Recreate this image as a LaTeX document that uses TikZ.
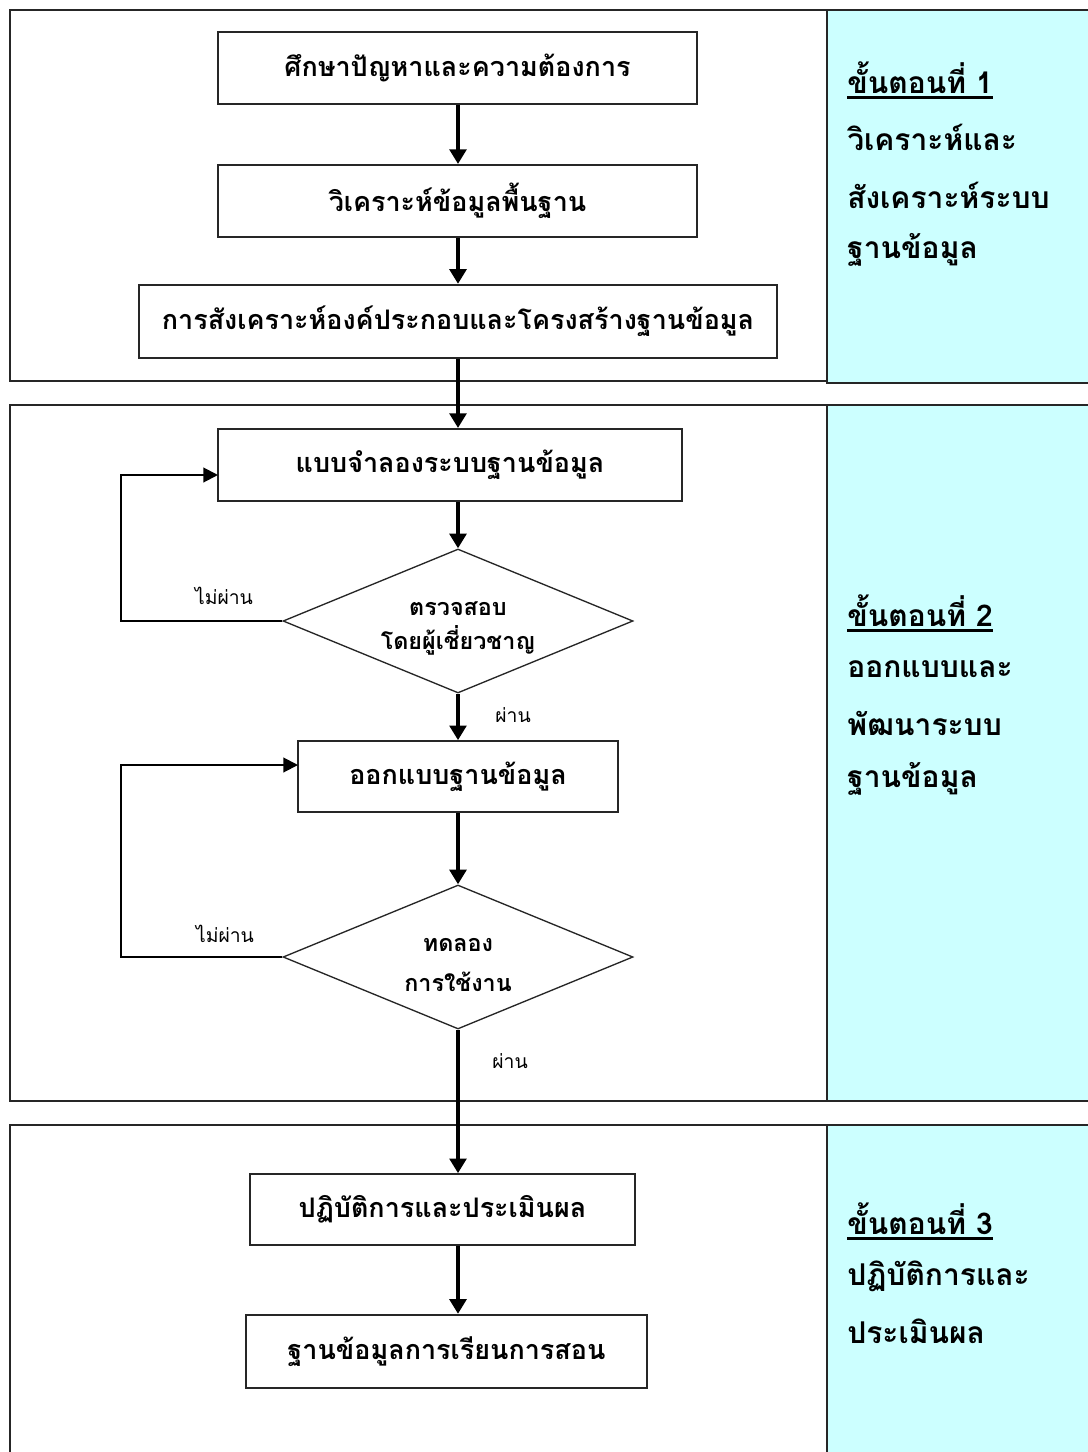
\documentclass[tikz,border=0pt]{standalone}
\usepackage{fontspec}
\usetikzlibrary{shapes.geometric,arrows.meta}
\setmainfont[Script=Thai]{Loma}
\newfontfamily\thaifont[Script=Thai]{Loma}
\definecolor{panelcyan}{HTML}{CCFFFF}
\newcommand\ulthai[1]{\setbox0\hbox{#1}\rlap{\copy0}\rule[-4pt]{\wd0}{1.8pt}}
\tikzset{
  panel/.style={draw=black!85, line width=1.6pt},
  sidepanel/.style={draw=black!85, fill=panelcyan, line width=1.6pt},
  stepbox/.style={draw=black!85, line width=1.5pt, rectangle, font=\thaifont\bfseries\fontsize{20.2}{24}\selectfont, inner sep=0pt},
  decision/.style={draw=black!85, line width=1pt, diamond, shape aspect=2.43, minimum width=262.5pt, minimum height=108pt, inner sep=0pt, align=center, font=\thaifont\bfseries\fontsize{17.5}{25.5}\selectfont},
  mainarrow/.style={line width=3pt, -{Triangle[length=11pt,width=12.5pt]}},
  looparrow/.style={line width=1.5pt, -{Triangle[length=11pt,width=11pt]}},
  smalllabel/.style={font=\thaifont\fontsize{14.5}{17}\selectfont},
  sidetext/.style={anchor=west, font=\thaifont\bfseries\fontsize{22.5}{26}\selectfont, inner sep=0pt},
}
\begin{document}
\begin{tikzpicture}[x=0.75pt, y=-0.75pt]
\useasboundingbox (0,0) rectangle (1088,1452);
\fill[white] (0,0) rectangle (1088,1452);
\begin{scope}
\clip (0,0) rectangle (1088,1452);
% panels
\draw[panel] (10,10) rectangle (1100,381);
\draw[sidepanel] (827,10) rectangle (1100,383);
\draw[panel] (10,405) rectangle (1100,1101);
\draw[sidepanel] (827,405) rectangle (1100,1101);
\draw[panel] (10,1125) rectangle (1100,1470);
\draw[sidepanel] (827,1125) rectangle (1100,1470);
\end{scope}
% boxes
\node[stepbox, minimum width=359pt, minimum height=54pt] (b1) at (457.5,68) {ศึกษาปัญหาและความต้องการ};
\node[stepbox, minimum width=359pt, minimum height=54pt] (b2) at (457.5,201) {วิเคราะห์ข้อมูลพื้นฐาน};
\node[stepbox, minimum width=478.5pt, minimum height=55pt] (b3) at (458,321.5) {การสังเคราะห์องค์ประกอบและโครงสร้างฐานข้อมูล};
\node[stepbox, minimum width=348pt, minimum height=54pt] (b4) at (450,465) {แบบจำลองระบบฐานข้อมูล};
\node[decision] (d1) at (458,621) {\rule{0pt}{22pt}ตรวจสอบ\\โดยผู้เชี่ยวชาญ};
\node[stepbox, minimum width=240pt, minimum height=53pt] (b5) at (458,776.5) {ออกแบบฐานข้อมูล};
\node[decision] (d2) at (458,957) {\rule{0pt}{22pt}ทดลอง\\[4pt]การใช้งาน};
\node[stepbox, minimum width=289pt, minimum height=53pt] (b6) at (442.5,1209.5) {ปฏิบัติการและประเมินผล};
\node[stepbox, minimum width=301pt, minimum height=55pt] (b7) at (446.5,1351.5) {ฐานข้อมูลการเรียนการสอน};
% labels
\node[smalllabel] (n1) at (224,596) {ไม่ผ่าน};
\node[smalllabel] (p1) at (513,715) {ผ่าน};
\node[smalllabel] (n2) at (225,934) {ไม่ผ่าน};
\node[smalllabel] (p2) at (510,1061) {ผ่าน};
% main arrows
\draw[mainarrow] (b1.south -| d1) -- (b2.north -| d1);
\draw[mainarrow] (b2.south -| d1) -- (b3.north -| d1);
\draw[mainarrow] (b3.south -| d1) -- (b4.north -| d1);
\draw[mainarrow] (b4.south -| d1) -- (d1.north);
\draw[mainarrow] (d1.south) -- (b5.north);
\draw[mainarrow] (b5.south) -- (d2.north);
\draw[mainarrow] (d2.south) -- (b6.north -| d2);
\draw[mainarrow] (b6.south -| d2) -- (b7.north -| d2);
% loops
\coordinate (l1) at (121,621);
\coordinate (e1) at (218,475);
\coordinate (l2) at (121,957);
\coordinate (e2) at (298,765);
\draw[looparrow] (d1.west) -- (l1 |- d1.west) |- (e1);
\draw[looparrow] (d2.west) -- (l2 |- d2.west) |- (e2);
% side texts
\node[sidetext] (s1) at (847,80) {\ulthai{ขั้นตอนที่ 1}};
\node[sidetext] (s1a) at (847,137) {วิเคราะห์และ};
\node[sidetext] (s1b) at (847,195) {สังเคราะห์ระบบ};
\node[sidetext] (s1c) at (847,250) {ฐานข้อมูล};
\node[sidetext] (s2) at (847,613) {\ulthai{ขั้นตอนที่ 2}};
\node[sidetext] (s2a) at (847,669) {ออกแบบและ};
\node[sidetext] (s2b) at (847,723) {พัฒนาระบบ};
\node[sidetext] (s2c) at (847,779) {ฐานข้อมูล};
\node[sidetext] (s3) at (847,1221) {\ulthai{ขั้นตอนที่ 3}};
\node[sidetext] (s3a) at (847,1276) {ปฏิบัติการและ};
\node[sidetext] (s3b) at (847,1331) {ประเมินผล};
\end{tikzpicture}
\end{document}
